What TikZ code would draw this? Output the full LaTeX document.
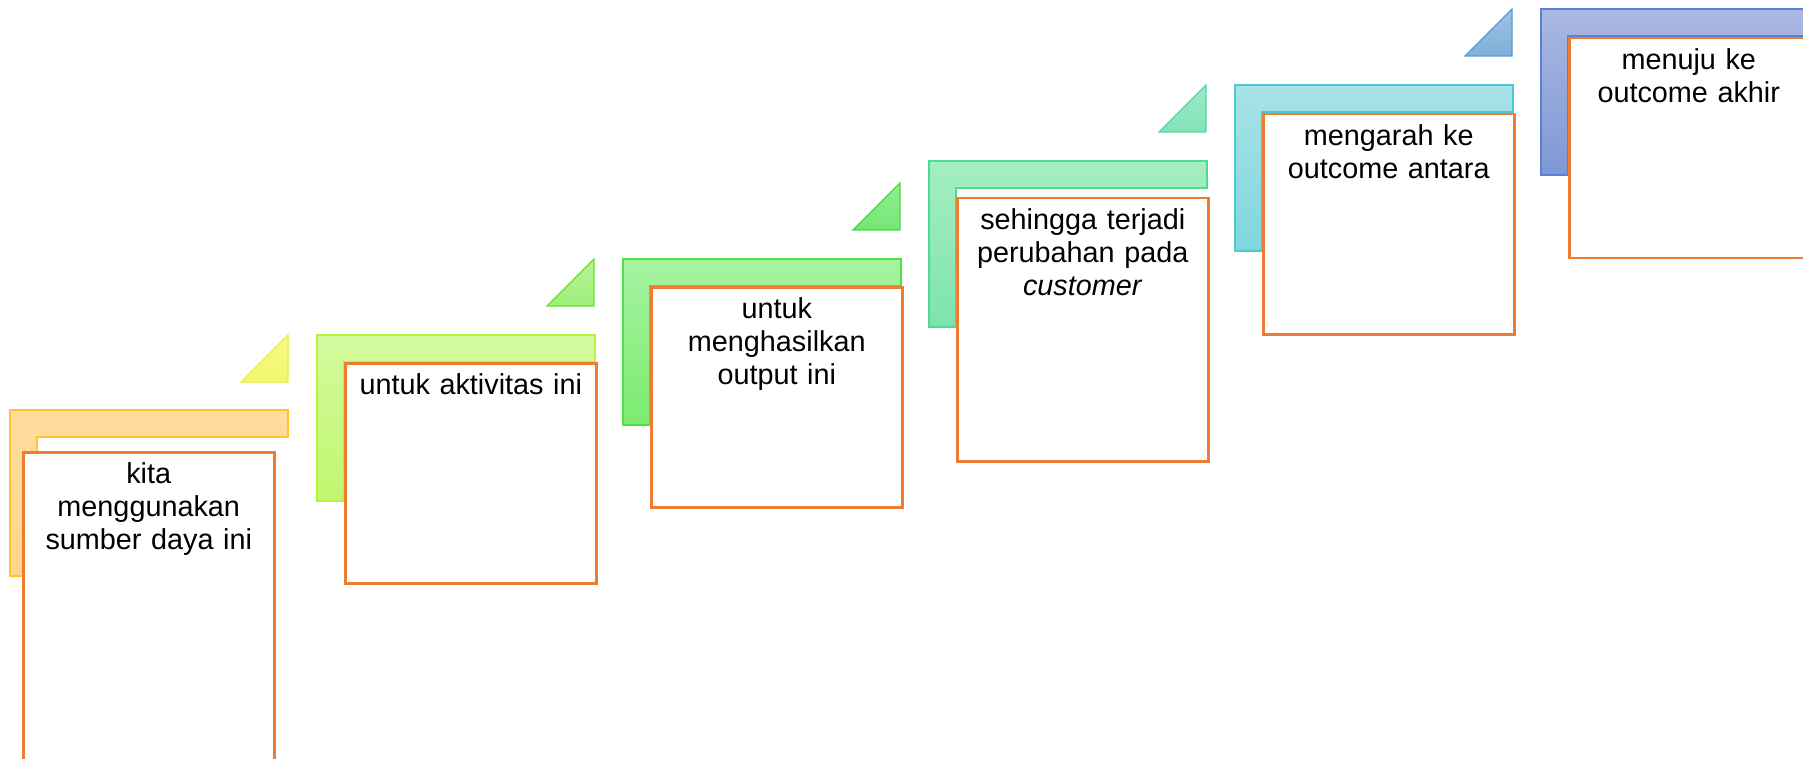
\documentclass[tikz,border=0pt]{standalone}
\usepackage{fontspec}
\setmainfont{Liberation Sans}
\usetikzlibrary{shapes,positioning,calc}
\definecolor{boxorange}{HTML}{ED7D31}
\definecolor{oneTop}{HTML}{FEDC9E}
\definecolor{oneBot}{HTML}{FED68A}
\definecolor{oneLine}{HTML}{FFC52A}
\definecolor{twoTop}{HTML}{D4FA9E}
\definecolor{twoBot}{HTML}{C0F76E}
\definecolor{twoLine}{HTML}{B8F040}
\definecolor{threeTop}{HTML}{A6F3A2}
\definecolor{threeBot}{HTML}{7CEB6E}
\definecolor{threeLine}{HTML}{4CE040}
\definecolor{fourTop}{HTML}{A4EEC2}
\definecolor{fourBot}{HTML}{7EE3AC}
\definecolor{fourLine}{HTML}{4CDC8C}
\definecolor{fiveTop}{HTML}{A8E2E8}
\definecolor{fiveBot}{HTML}{7ED7DD}
\definecolor{fiveLine}{HTML}{4EC8D2}
\definecolor{sixTop}{HTML}{AAB8E2}
\definecolor{sixBot}{HTML}{7E98D5}
\definecolor{sixLine}{HTML}{5A80D2}
\definecolor{toneTop}{HTML}{F6FA8C}
\definecolor{toneBot}{HTML}{F2F76C}
\definecolor{toneLine}{HTML}{EAEE3C}
\definecolor{ttwoTop}{HTML}{B8F496}
\definecolor{ttwoBot}{HTML}{9EEE7A}
\definecolor{ttwoLine}{HTML}{6AE02E}
\definecolor{tthreeTop}{HTML}{92EE8E}
\definecolor{tthreeBot}{HTML}{74E676}
\definecolor{tthreeLine}{HTML}{44D844}
\definecolor{tfourTop}{HTML}{9CEBCB}
\definecolor{tfourBot}{HTML}{82E2B6}
\definecolor{tfourLine}{HTML}{52D8A0}
\definecolor{tfiveTop}{HTML}{9EC2E2}
\definecolor{tfiveBot}{HTML}{7EB0DA}
\definecolor{tfiveLine}{HTML}{5B9BD5}

\tikzset{
    stepframe/.style={line width=1.2pt, line join=miter},
    stepbox/.style={rectangle, draw=boxorange, line width=2.5pt, fill=white, anchor=north west, minimum width=251pt, inner sep=0pt},
    steptext/.style={text width=232pt, align=center, inner sep=0pt, font=\fontsize{28.8}{33}\selectfont}
}

\begin{document}
\begin{tikzpicture}[x=1pt, y=-1pt]
    \useasboundingbox (0,0) rectangle (1803,759);
    % frames behind the boxes
    \foreach \x/\y/\c in {10/410/one, 317/335/two, 623/259/three, 929/161/four, 1235/85/five, 1541/9/six}
        \draw[stepframe, draw=\c Line, top color=\c Top, bottom color=\c Bot]
            (\x,\y) -- ++(278,0) -- ++(0,27) -- ++(-251,0) -- ++(0,139) -- ++(-27,0) -- cycle;
    % small corner triangles
    \foreach \x/\y/\c in {241/335/tone, 547/259/ttwo, 853/183/tthree, 1159/85/tfour, 1465/9/tfive}
        \draw[stepframe, draw=\c Line, top color=\c Top, bottom color=\c Bot]
            (\x,\y) ++(47,0) -- ++(0,47) -- ++(-47,0) -- cycle;
    % boxes
    \node[stepbox, minimum height=330pt] (box1) at (22,451) {};
    \node[stepbox, minimum height=220pt] (box2) at (344,362) {};
    \node[stepbox, minimum height=220pt] (box3) at (650,286) {};
    \node[stepbox, minimum height=263pt] (box4) at (956,197) {};
    \node[stepbox, minimum height=220pt] (box5) at (1262,113) {};
    \node[stepbox, minimum height=220pt] (box6) at (1568,37) {};
    % texts
    \node[steptext, below=11pt of box1.north] (txt1) {kita\\menggunakan\\sumber daya ini};
    \node[steptext, below=11pt of box2.north] (txt2) {untuk aktivitas ini};
    \node[steptext, below=11pt of box3.north] (txt3) {untuk\\menghasilkan\\output ini};
    \node[steptext, below=11pt of box4.north] (txt4) {sehingga terjadi\\perubahan pada\\\textit{customer}};
    \node[steptext, below=11pt of box5.north] (txt5) {mengarah ke\\outcome antara};
    \node[steptext, below=11pt of box6.north, xshift=-6pt] (txt6) {menuju ke\\outcome akhir};
\end{tikzpicture}
\end{document}
